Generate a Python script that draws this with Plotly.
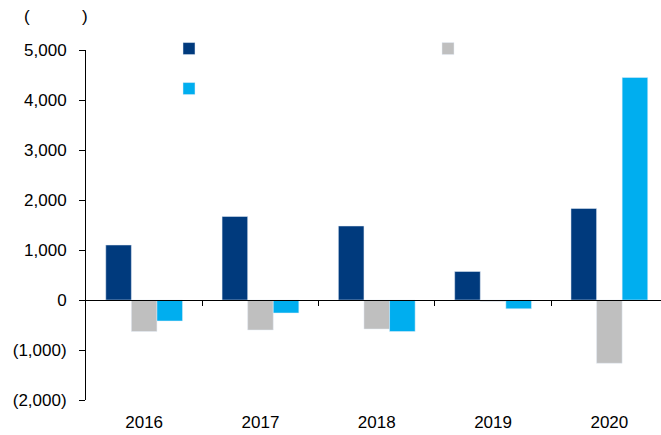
import plotly.graph_objects as go

years = ["2016", "2017", "2018", "2019", "2020"]
series_a = [1100, 1670, 1480, 570, 1830]      # dark navy
series_b = [-630, -600, -580, -30, -1265]     # gray
series_c = [-420, -260, -630, -175, 4450]     # cyan

y_tick_vals = [5000, 4000, 3000, 2000, 1000, 0, -1000, -2000]
y_tick_text = ["5,000", "4,000", "3,000", "2,000", "1,000", "0", "(1,000)", "(2,000)"]

colors = ["#003A7D", "#BFBFBF", "#00AEEF"]
FONT = "Liberation Sans, Arial, sans-serif"
FS = 17

xpos = list(range(len(years)))
boundaries = [i + 0.5 for i in xpos[:-1]]

fig = go.Figure()
fig.add_trace(go.Bar(x=xpos, y=series_a, name=" ", marker_color=colors[0], legend="legend"))
fig.add_trace(go.Bar(x=xpos, y=series_b, name=" ", marker_color=colors[1], legend="legend2"))
fig.add_trace(go.Bar(x=xpos, y=series_c, name=" ", marker_color=colors[2], legend="legend3"))
# carrier so the zero-line axis (x2) is drawn
fig.add_trace(go.Scatter(x=[0], y=[0], xaxis="x2", yaxis="y", showlegend=False,
                         hoverinfo="skip", mode="markers", marker=dict(opacity=0)))

W, H = 661, 435
L, R, T, B = 86, 0, 50, 35
xr = [-0.5, 4.444]
yr = [-2000, 5000]
zero_pos = (0 - yr[0]) / (yr[1] - yr[0])

def lx(px):
    return (px - L) / (W - L - R)

def ly(py):
    return (H - B - py) / (H - T - B)

leg_common = dict(orientation="h", xanchor="left", yanchor="middle",
                  bgcolor="rgba(0,0,0,0)", font=dict(family=FONT, size=FS, color="#000"))

fig.update_layout(
    width=W, height=H,
    margin=dict(l=L, r=R, t=T, b=B, pad=0, autoexpand=False),
    plot_bgcolor="white", paper_bgcolor="white",
    barmode="group", bargap=0.34, bargroupgap=0,
    font=dict(family=FONT, size=FS, color="#000"),
    showlegend=True,
    legend=dict(x=lx(169), y=ly(49), **leg_common),
    legend2=dict(x=lx(428), y=ly(49), **leg_common),
    legend3=dict(x=lx(169), y=ly(89), **leg_common),
    xaxis=dict(range=xr, tickvals=xpos, ticktext=years, showline=False, ticks="",
               showgrid=False, zeroline=False, ticklabelstandoff=10,
               tickfont=dict(family=FONT, size=FS, color="#000")),
    xaxis2=dict(range=xr, overlaying="x", anchor="free", position=zero_pos, side="bottom",
                tickvals=boundaries, showticklabels=False,
                ticks="outside", ticklen=5, tickcolor="#000", tickwidth=1,
                showline=True, linecolor="#000", linewidth=1, showgrid=False, zeroline=False,
                layer="above traces"),
    yaxis=dict(range=yr, tickvals=y_tick_vals, ticktext=y_tick_text,
               ticks="outside", ticklen=6, tickcolor="#000", tickwidth=1,
               showline=True, linecolor="#000", linewidth=1,
               showgrid=False, zeroline=True, zerolinecolor="#000", zerolinewidth=1,
               ticklabelstandoff=9,
               tickfont=dict(family=FONT, size=FS, color="#000")),
)

fig.add_annotation(text="(", x=lx(27), y=ly(17), xref="paper", yref="paper", showarrow=False,
                   xanchor="center", yanchor="middle",
                   font=dict(family=FONT, size=FS, color="#000"))
fig.add_annotation(text=")", x=lx(85), y=ly(17), xref="paper", yref="paper", showarrow=False,
                   xanchor="center", yanchor="middle",
                   font=dict(family=FONT, size=FS, color="#000"))

fig.write_html("out.html", config={"displayModeBar": False},
               post_script="document.body.style.margin='0';document.body.style.overflow='hidden';")
